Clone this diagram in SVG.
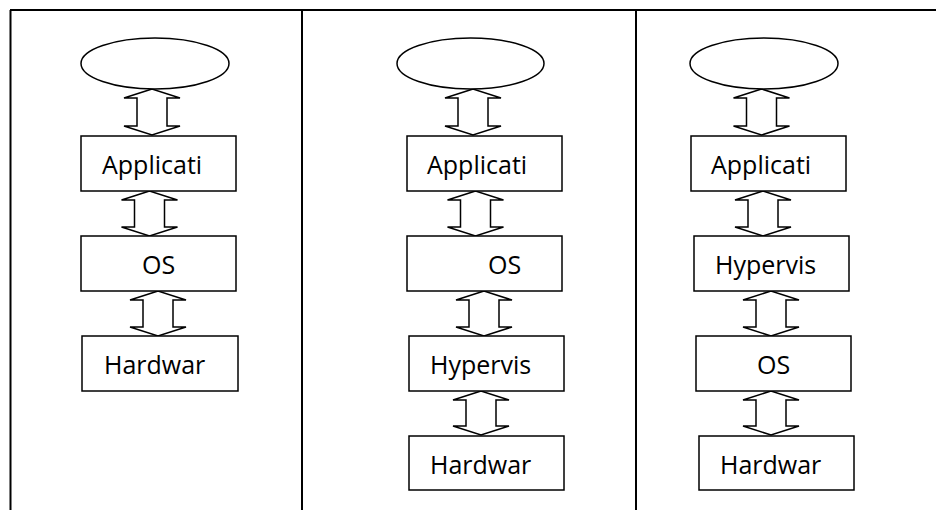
<svg xmlns="http://www.w3.org/2000/svg" width="936" height="510" viewBox="0 0 936 510">
<style>
.frame{stroke:#000;stroke-width:2;fill:none}
.box{fill:#fff;stroke:#000;stroke-width:1.5}
.ell{fill:#fff;stroke:#000;stroke-width:1.5}
.arr{fill:#fff;stroke:#000;stroke-width:1.5;stroke-linejoin:miter}
text{font-family:"Open Sans","Noto Sans","Liberation Sans",sans-serif;font-size:25px;fill:#000}
</style>
<defs>
<path id="a46" d="M0,0 L-28,9 L-15,9 L-15,37 L-28,37 L0,46 L28,37 L15,37 L15,9 L28,9 Z"/>
<path id="a45" d="M0,0 L-28,9 L-15,9 L-15,36 L-28,36 L0,45 L28,36 L15,36 L15,9 L28,9 Z"/>
<path id="a44" d="M0,0 L-28,9 L-15,9 L-15,35 L-28,35 L0,44 L28,35 L15,35 L15,9 L28,9 Z"/>
</defs>
<g id="frame">
<line class="frame" x1="10" y1="10" x2="936" y2="10"/>
<line class="frame" x1="10.5" y1="10" x2="10.5" y2="510"/>
<line class="frame" x1="302" y1="10" x2="302" y2="510"/>
<line class="frame" x1="636" y1="10" x2="636" y2="510"/>
</g>
<g id="connectors">
<use href="#a46" class="arr" x="152" y="89"/>
<use href="#a45" class="arr" x="149.5" y="191"/>
<use href="#a45" class="arr" x="158" y="291"/>
<use href="#a46" class="arr" x="473" y="89"/>
<use href="#a45" class="arr" x="475.5" y="191"/>
<use href="#a45" class="arr" x="484" y="291"/>
<use href="#a44" class="arr" x="481" y="391"/>
<use href="#a46" class="arr" x="761.5" y="89"/>
<use href="#a45" class="arr" x="763" y="191"/>
<use href="#a45" class="arr" x="771" y="291"/>
<use href="#a44" class="arr" x="771" y="391"/>
</g>
<g id="p1-user"><ellipse class="ell" cx="155" cy="63.5" rx="74" ry="25.5"/></g>
<g id="p1-app"><rect class="box" x="81" y="136" width="155" height="55"/><text x="102" y="174">Applicati</text></g>
<g id="p1-os"><rect class="box" x="81" y="236" width="155" height="55"/><text x="142" y="274">OS</text></g>
<g id="p1-hw"><rect class="box" x="82" y="336" width="156" height="55"/><text x="104" y="374">Hardwar</text></g>

<g id="p2-user"><ellipse class="ell" cx="470.5" cy="63.5" rx="73.5" ry="25.5"/></g>
<g id="p2-app"><rect class="box" x="407" y="136" width="155" height="55"/><text x="427" y="174">Applicati</text></g>
<g id="p2-os"><rect class="box" x="407" y="236" width="155" height="55"/><text x="488" y="274">OS</text></g>
<g id="p2-hyp"><rect class="box" x="409" y="336" width="155" height="55"/><text x="430" y="374">Hypervis</text></g>
<g id="p2-hw"><rect class="box" x="409" y="436" width="155" height="54"/><text x="430" y="474">Hardwar</text></g>

<g id="p3-user"><ellipse class="ell" cx="764" cy="63.5" rx="74" ry="25.5"/></g>
<g id="p3-app"><rect class="box" x="691" y="136" width="155" height="55"/><text x="711" y="174">Applicati</text></g>
<g id="p3-hyp"><rect class="box" x="694" y="236" width="155" height="55"/><text x="715" y="274">Hypervis</text></g>
<g id="p3-os"><rect class="box" x="696" y="336" width="155" height="55"/><text x="757" y="374">OS</text></g>
<g id="p3-hw"><rect class="box" x="699" y="436" width="155" height="54"/><text x="720" y="474">Hardwar</text></g>
</svg>
